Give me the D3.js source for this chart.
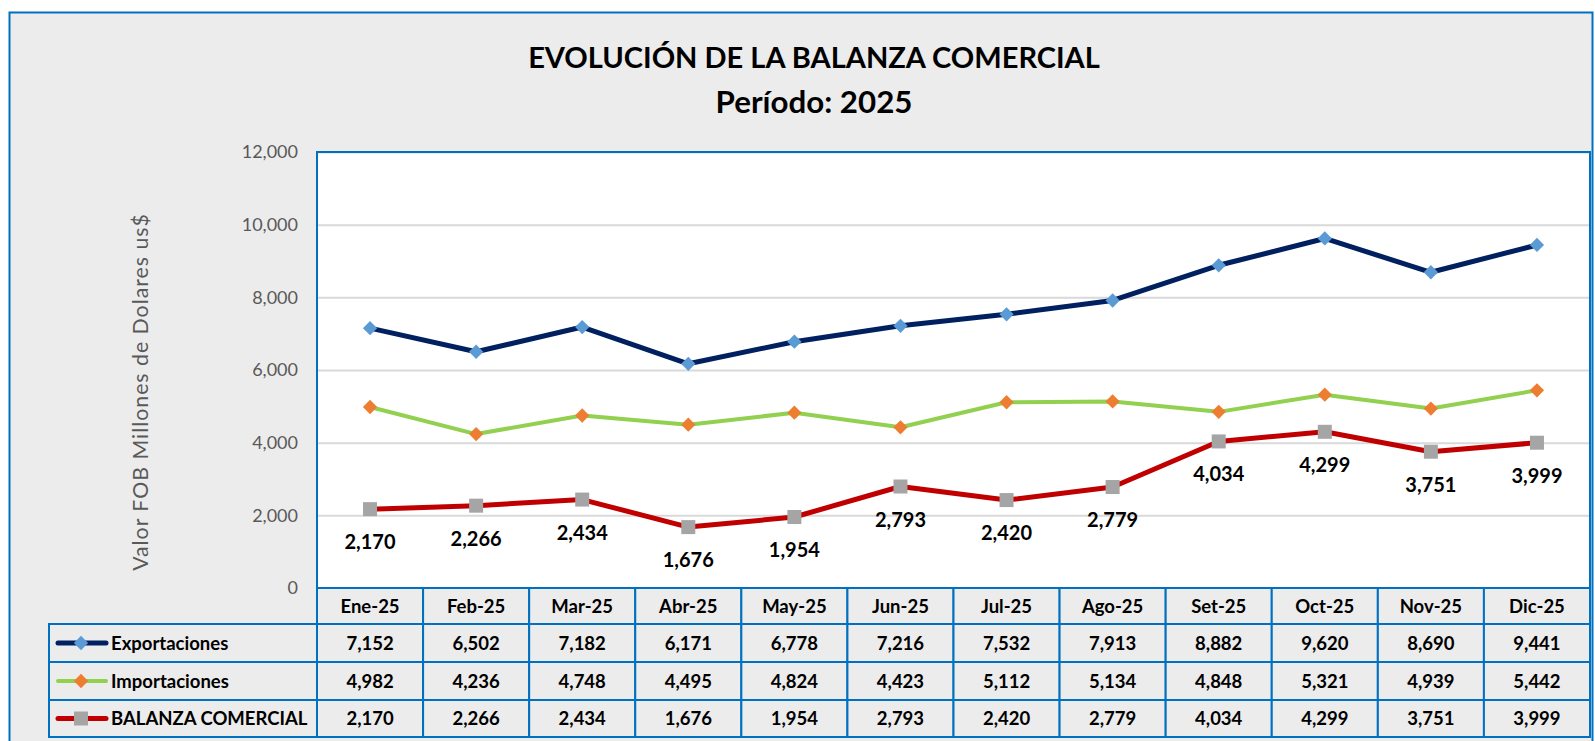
<!DOCTYPE html>
<html>
<head>
<meta charset="utf-8">
<script src="https://cdn.jsdelivr.net/npm/d3@7"></script>
<style>
  body { margin: 0; background: #fff; }
  svg { display: block; font-family: Lato, "Open Sans", sans-serif; }
</style>
</head>
<body>
<svg id="chart" width="1595" height="741"></svg>
<script>
const months = ["Ene-25", "Feb-25", "Mar-25", "Abr-25", "May-25", "Jun-25", "Jul-25", "Ago-25", "Set-25", "Oct-25", "Nov-25", "Dic-25"];
const exportaciones = [7152, 6502, 7182, 6171, 6778, 7216, 7532, 7913, 8882, 9620, 8690, 9441];
const importaciones = [4982, 4236, 4748, 4495, 4824, 4423, 5112, 5134, 4848, 5321, 4939, 5442];
const balanza = [2170, 2266, 2434, 1676, 1954, 2793, 2420, 2779, 4034, 4299, 3751, 3999];
const yTicks = [0, 2000, 4000, 6000, 8000, 10000, 12000];

const series = [
  { name: "Exportaciones", values: exportaciones, line: "#002060", marker: "#5b9bd5", shape: "diamond", width: 5 },
  { name: "Importaciones", values: importaciones, line: "#92d050", marker: "#ed7d31", shape: "diamond", width: 4 },
  { name: "BALANZA COMERCIAL", values: balanza, line: "#c00000", marker: "#a5a5a5", shape: "square", width: 5 }
];

const svg = d3.select("#chart");
const fmt = d3.format(",");
const blue = "#0070c0";

// plot box
const plot = { left: 317, top: 152, right: 1590, bottom: 588 };
const rowH = [36, 38, 38, 37];
const legendLeft = 49;

// fit a text element to a target width by changing font size
function fitWidth(sel, target) {
  const fs = parseFloat(sel.attr("font-size"));
  const w = sel.node().getComputedTextLength();
  sel.attr("font-size", fs * target / w);
}

// outer chart area
svg.append("rect")
  .attr("x", 9.5).attr("y", 12.5)
  .attr("width", 1583).attr("height", 740)
  .attr("fill", "#ececec")
  .attr("stroke", blue).attr("stroke-width", 2);

// title
const t1 = svg.append("text")
  .attr("x", 814).attr("y", 68)
  .attr("text-anchor", "middle")
  .attr("font-size", 30).attr("font-weight", "bold")
  .attr("fill", "#000")
  .text("EVOLUCIÓN DE LA BALANZA COMERCIAL");
fitWidth(t1, 572);
const t2 = svg.append("text")
  .attr("x", 814).attr("y", 113)
  .attr("text-anchor", "middle")
  .attr("font-size", 30).attr("font-weight", "bold")
  .attr("fill", "#000")
  .text("Período: 2025");
fitWidth(t2, 197);

const x = d3.scaleBand()
  .domain(months)
  .range([plot.left, plot.right])
  .padding(0);

const y = d3.scaleLinear()
  .domain([0, 12000])
  .range([plot.bottom, plot.top]);

const cx = d => x(d) + x.bandwidth() / 2;

// plot background
svg.append("rect")
  .attr("x", plot.left).attr("y", plot.top)
  .attr("width", plot.right - plot.left).attr("height", plot.bottom - plot.top)
  .attr("fill", "#fff");

// gridlines
svg.append("g")
  .attr("transform", `translate(${plot.left},0)`)
  .call(d3.axisLeft(y).tickValues(yTicks).tickSize(-(plot.right - plot.left)).tickFormat(""))
  .call(g => g.select(".domain").remove())
  .call(g => g.selectAll("line").attr("stroke", "#d9d9d9").attr("stroke-width", 2));

// y axis labels
svg.append("g")
  .attr("transform", `translate(${plot.left},0)`)
  .call(d3.axisLeft(y).tickValues(yTicks).tickSize(0).tickPadding(19).tickFormat(fmt))
  .call(g => g.select(".domain").remove())
  .call(g => g.selectAll("text")
    .attr("font-family", "Lato, sans-serif")
    .attr("font-size", 18)
    .attr("fill", "#595959"));

// y axis title
const yt = svg.append("text")
  .attr("transform", "translate(148,392) rotate(-90)")
  .attr("text-anchor", "middle")
  .attr("font-size", 20)
  .attr("fill", "#595959")
  .attr("letter-spacing", 1)
  .text("Valor FOB Millones de Dolares us$");
fitWidth(yt, 360);

// plot border
svg.append("rect")
  .attr("x", plot.left).attr("y", plot.top)
  .attr("width", plot.right - plot.left).attr("height", plot.bottom - plot.top)
  .attr("fill", "none")
  .attr("stroke", blue).attr("stroke-width", 2);

function drawMarker(g, s, px, py) {
  if (s.shape === "diamond") {
    g.append("path")
      .attr("d", d3.symbol(d3.symbolDiamond2, 130)())
      .attr("transform", `translate(${px},${py})`)
      .attr("fill", s.marker);
  } else {
    g.append("rect")
      .attr("x", px - 7).attr("y", py - 7)
      .attr("width", 14).attr("height", 14)
      .attr("fill", s.marker);
  }
}

// lines + markers
const line = d3.line()
  .x((d, i) => cx(months[i]))
  .y(d => y(d));

series.forEach(s => {
  const g = svg.append("g");
  g.append("path")
    .datum(s.values)
    .attr("d", line)
    .attr("fill", "none")
    .attr("stroke", s.line)
    .attr("stroke-width", s.width)
    .attr("stroke-linejoin", "round");
  s.values.forEach((v, i) => drawMarker(g, s, cx(months[i]), y(v)));
});

// data labels for balanza
svg.append("g")
  .selectAll("text")
  .data(balanza)
  .join("text")
  .attr("x", (d, i) => cx(months[i]))
  .attr("y", d => y(d) + 40)
  .attr("text-anchor", "middle")
  .attr("font-size", 20)
  .attr("font-weight", "bold")
  .attr("fill", "#000")
  .text(d => fmt(d));

// data table
const table = svg.append("g");
const rowTop = [plot.bottom];
rowH.forEach((h, i) => rowTop.push(rowTop[i] + h));
const tfs = 18.5;

// header cells
table.selectAll(".hdr")
  .data(months)
  .join("rect")
  .attr("x", d => x(d)).attr("y", rowTop[0])
  .attr("width", x.bandwidth()).attr("height", rowH[0])
  .attr("fill", "#ececec")
  .attr("stroke", blue).attr("stroke-width", 2);

table.selectAll(".hdrTxt")
  .data(months)
  .join("text")
  .attr("x", d => cx(d)).attr("y", rowTop[0] + rowH[0] / 2 + 6.5)
  .attr("text-anchor", "middle")
  .attr("font-size", tfs).attr("font-weight", "bold")
  .attr("fill", "#000")
  .text(d => d);

series.forEach((s, r) => {
  const top = rowTop[r + 1], h = rowH[r + 1], mid = top + h / 2;
  table.append("rect")
    .attr("x", legendLeft).attr("y", top)
    .attr("width", plot.left - legendLeft).attr("height", h)
    .attr("fill", "#ececec")
    .attr("stroke", blue).attr("stroke-width", 2);
  table.selectAll(null)
    .data(months)
    .join("rect")
    .attr("x", d => x(d)).attr("y", top)
    .attr("width", x.bandwidth()).attr("height", h)
    .attr("fill", "#ececec")
    .attr("stroke", blue).attr("stroke-width", 2);
  table.selectAll(null)
    .data(s.values)
    .join("text")
    .attr("x", (d, i) => cx(months[i])).attr("y", mid + 6.5)
    .attr("text-anchor", "middle")
    .attr("font-size", tfs).attr("font-weight", "bold")
    .attr("fill", "#000")
    .text(d => fmt(d));
  // legend key
  table.append("line")
    .attr("x1", 58).attr("x2", 106)
    .attr("y1", mid).attr("y2", mid)
    .attr("stroke", s.line).attr("stroke-width", s.width)
    .attr("stroke-linecap", "round");
  drawMarker(table, s, 81, mid);
  const lt = table.append("text")
    .attr("x", 111).attr("y", mid + 6.5)
    .attr("font-size", tfs).attr("font-weight", "bold")
    .attr("fill", "#000")
    .text(s.name);
});
</script>
</body>
</html>
